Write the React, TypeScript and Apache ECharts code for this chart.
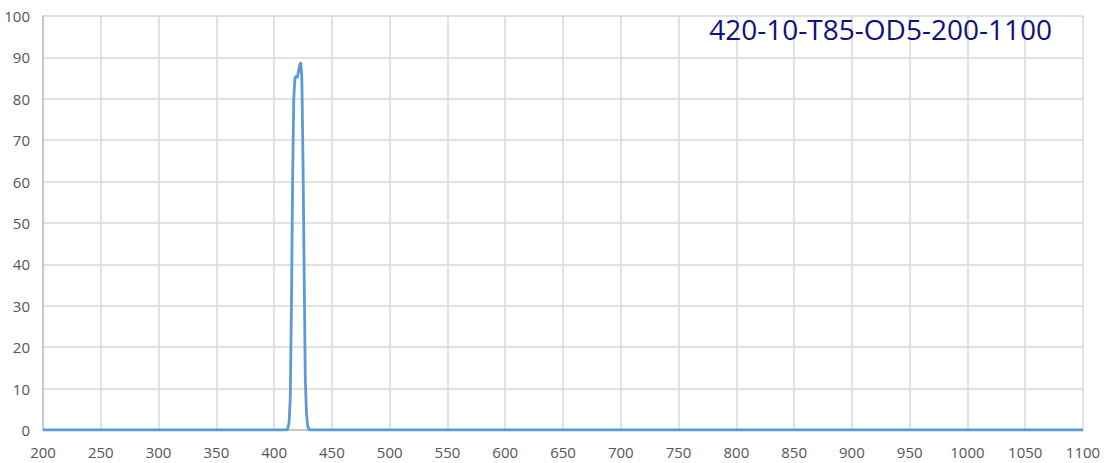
import { useEffect, useRef } from 'react';
import * as echarts from 'echarts';

// Transmission spectrum, wavelength (nm) vs transmission (%)
const wavelengths = [
  200, 300, 400, 410, 411, 412, 413, 414, 415, 416, 417, 418, 419, 420,
  421, 422, 423, 424, 425, 426, 427, 428, 429, 430, 431, 440, 600, 800, 1000, 1100,
];
const transmission = [
  0, 0, 0, 0, 0, 0.5, 2, 8, 30, 60, 80, 85, 85.5, 85,
  86.5, 88, 88.8, 85, 65, 38, 12, 4, 1, 0.3, 0, 0, 0, 0, 0, 0,
];
const titleText = '420-10-T85-OD5-200-1100';

function App() {
  const chartRef = useRef<HTMLDivElement>(null);

  useEffect(() => {
    if (!chartRef.current) return;
    const chart = echarts.init(chartRef.current, undefined, { renderer: 'svg' });

    const points = wavelengths.map((w, i) => [w, transmission[i]]);
    const labelFont = { fontFamily: 'Open Sans', fontSize: 15, color: '#555555' };

    chart.setOption({
      animation: false,
      title: {
        text: titleText,
        right: 49,
        top: 10,
        textStyle: {
          fontFamily: 'Open Sans',
          fontSize: 28,
          fontWeight: 'normal',
          color: '#10107e',
        },
      },
      grid: { left: 43, right: 23, top: 16, bottom: 33, containLabel: false },
      xAxis: {
        type: 'value',
        min: 200,
        max: 1100,
        interval: 50,
        axisLine: { show: true, lineStyle: { color: '#bfbfbf', width: 1.5 } },
        axisTick: { show: false },
        axisLabel: { ...labelFont, margin: 14, formatter: (v: number) => String(v) },
        splitLine: { show: true, lineStyle: { color: '#d9d9d9', width: 1.5 } },
      },
      yAxis: {
        type: 'value',
        min: 0,
        max: 100,
        interval: 10,
        axisLine: { show: true, lineStyle: { color: '#bfbfbf', width: 1.5 } },
        axisTick: { show: false },
        axisLabel: { ...labelFont, margin: 13 },
        splitLine: { show: true, lineStyle: { color: '#d9d9d9', width: 1.5 } },
      },
      series: [
        {
          type: 'line',
          data: points,
          showSymbol: false,
          smooth: false,
          lineStyle: { color: '#5b9bd5', width: 2.8 },
        },
      ],
    });

    return () => chart.dispose();
  }, []);

  return (
    <div
      ref={chartRef}
      style={{ position: 'absolute', left: 0, top: 0, width: 1106, height: 463, background: '#fff' }}
    />
  );
}

export default App;
